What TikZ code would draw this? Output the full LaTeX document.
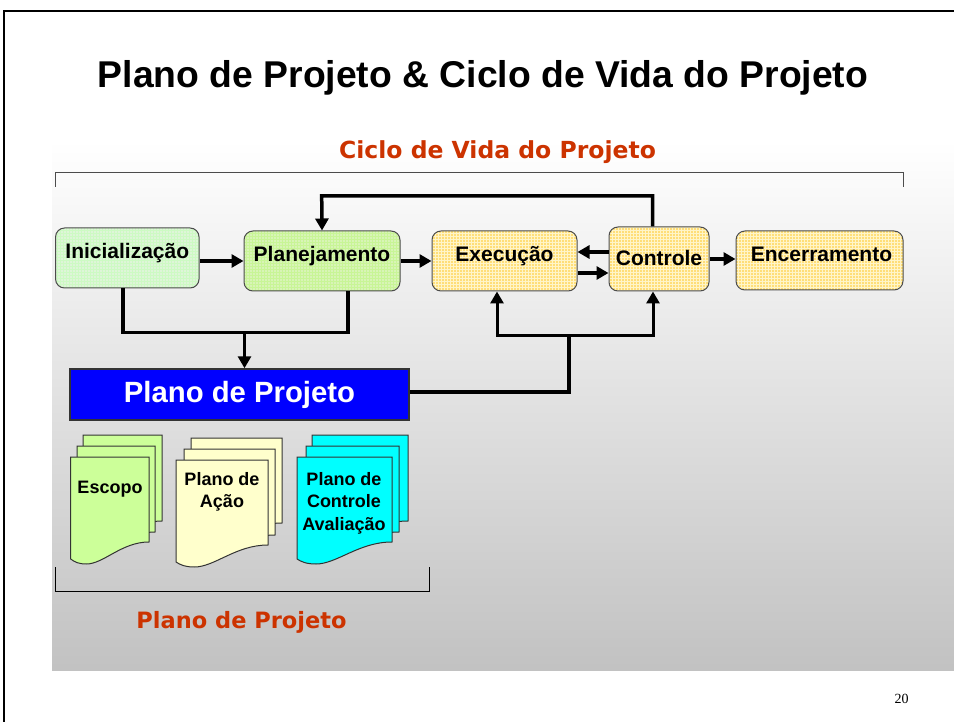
\documentclass[tikz,border=0pt]{standalone}
\usepackage{fontspec}
\setmainfont{Liberation Sans}
\newfontfamily\verdanafont{DejaVu Sans}
\newfontfamily\pagefont{Liberation Serif}
\usepackage{tikz}
\usetikzlibrary{arrows.meta,calc,patterns}
\definecolor{rustred}{RGB}{204,51,0}
\definecolor{iniGreen}{RGB}{222,245,216}
\definecolor{iniGrid}{RGB}{205,250,195}
\definecolor{plaGreen}{RGB}{216,244,182}
\definecolor{plaGrid}{RGB}{200,245,150}
\definecolor{exeGold}{RGB}{255,222,120}
\definecolor{exeGrid}{RGB}{255,245,200}
\definecolor{docGreen}{RGB}{204,255,153}
\definecolor{docCream}{RGB}{255,255,204}
\definecolor{docCyan}{RGB}{0,255,255}
\tikzstyle{wire} = [line width=3.5pt,->,>={Triangle[length=12pt,width=13pt]}]
\tikzstyle{plain wire} = [line width=3.5pt]
\tikzstyle{phase} = [draw=black!70,line width=1pt,rounded corners=9pt,font=\bfseries\fontsize{21}{24}\selectfont,inner sep=0pt]
\tikzstyle{bracket} = [black!70,line width=1pt]
\tikzstyle{caption} = [text=rustred,font=\verdanafont\bfseries\fontsize{23.5}{26}\selectfont]
\tikzstyle{sheet} = [draw=black!80,line width=1pt]
\tikzstyle{doctext} = [font=\bfseries\fontsize{18}{22.5}\selectfont,align=center,inner sep=0pt]
% one sheet: left, right, top, bottom at the right side
\newcommand{\docsheet}[5]{
	\draw[sheet,fill=#5] (#1,#3) -- (#2,#3) -- (#2,#4)
		.. controls ({#2-(#2-#1)*0.35},#4) and ({#1+(#2-#1)*0.42},#4+22) .. ({#1+(#2-#1)*0.2},#4+22)
		.. controls ({#1+(#2-#1)*0.1},#4+22) and ({#1+(#2-#1)*0.05},#4+20) .. (#1,#4+17) -- cycle;
}
\begin{document}
\begin{tikzpicture}[x=1pt,y=-1pt]
	\useasboundingbox (0,0) rectangle (954,722);
	\shade[top color=white,bottom color=black!24] (52,140) rectangle (954,670);
	\draw[line width=2.5pt] (954,11) -- (4,11) -- (4,722);
	\node (title) at (483,78) {\bfseries\fontsize{37.3}{44}\selectfont Plano de Projeto \& Ciclo de Vida do Projeto};
	\node[caption] (lifecycle) at (497.5,152) {Ciclo de Vida do Projeto};
	\draw[bracket] (55.5,187) -- (55.5,173) -- (903,173) -- (903,187);

	\node[phase,minimum width=143.5pt,minimum height=60pt,preaction={fill=iniGreen},pattern=grid,pattern color=iniGrid,text depth=15pt] (ini) at (127.3,258) {Inicialização};
	\node[phase,minimum width=156pt,minimum height=60pt,preaction={fill=plaGreen},pattern=grid,pattern color=plaGrid,text depth=15pt] (pla) at (322,261) {Planejamento};
	\node[phase,minimum width=145pt,minimum height=60pt,preaction={fill=exeGold},pattern=grid,pattern color=exeGrid,text depth=15pt] (exe) at (504.5,261) {Execução};
	\node[phase,minimum width=100pt,minimum height=64pt,preaction={fill=exeGold},pattern=grid,pattern color=exeGrid,text depth=2pt] (con) at (659,259) {Controle};
	\node[phase,minimum width=167pt,minimum height=59pt,preaction={fill=exeGold},pattern=grid,pattern color=exeGrid,text depth=13pt] (enc) at (819.5,260.5) {\kern4pt Encerramento};
	\node[draw=black!80,line width=1.5pt,fill=blue,text=white,minimum width=339pt,minimum height=51pt,font=\bfseries\fontsize{29.3}{32}\selectfont,inner sep=0pt,text depth=6pt] (plan) at (239.5,394.5) {Plano de Projeto};

	\coordinate (loopa) at (652.7,196);
	\coordinate (loopb) at (321.7,196);
	\coordinate (joina) at (123,332.5);
	\coordinate (joinb) at (348,332.5);
	\coordinate (joinc) at (244.5,332.5);
	\coordinate (feeda) at (569,392);
	\coordinate (feedb) at (569,336);
	\coordinate (feedc) at (497,336);
	\coordinate (feedd) at (653,336);

	\draw[wire] (ini.east |- pla.west) -- (pla.west);
	\draw[wire] (pla.east) -- (exe.west);
	\draw[wire] (con.west |- 0,252) -- (exe.east |- 0,252);
	\draw[wire] (exe.east |- 0,273) -- (con.west |- 0,273);
	\draw[wire] (con.east) -- (enc.west |- con.east);
	\draw[wire] (loopa |- con.north) -- (loopa) -- (loopb) -- (pla.north);
	\draw[plain wire] (joina |- ini.south) -- (joina) -- (joinb) -- (joinb |- pla.south);
	\draw[wire] (joinc) -- (joinc |- plan.north);
	\draw[plain wire] (plan.east |- feeda) -- (feeda) -- (feedb);
	\draw[wire,line width=3pt] (feedb) -- (feedc) -- (feedc |- exe.south);
	\draw[wire,line width=3pt] (feedb) -- (feedd) -- (feedd |- con.south);

	\docsheet{83}{162}{435}{521}{docGreen}
	\docsheet{77}{155}{446}{532}{docGreen}
	\docsheet{70.7}{149}{457}{542}{docGreen}
	\node[doctext] (scope) at (110,489) {Escopo};

	\docsheet{191}{282}{438}{523}{docCream}
	\docsheet{184}{275}{449}{535}{docCream}
	\docsheet{176}{268}{460}{545}{docCream}
	\node[doctext,anchor=north] (action) at (222,472) {Plano de\\Ação};

	\docsheet{312}{408}{435}{521}{docCyan}
	\docsheet{306}{399}{446}{532}{docCyan}
	\docsheet{297}{392}{457}{542}{docCyan}
	\node[doctext,anchor=north] (control) at (344,472) {Plano de\\Controle\\Avaliação};

	\draw[bracket,black] (55.5,567) -- (55.5,591) -- (429.5,591) -- (429.5,567);
	\node[caption,font=\verdanafont\bfseries\fontsize{22.5}{26}\selectfont] (plancaption) at (241.5,622) {Plano de Projeto};
	\node[font=\pagefont\fontsize{14}{16}\selectfont] (pagenum) at (901.5,699) {20};
\end{tikzpicture}
\end{document}
